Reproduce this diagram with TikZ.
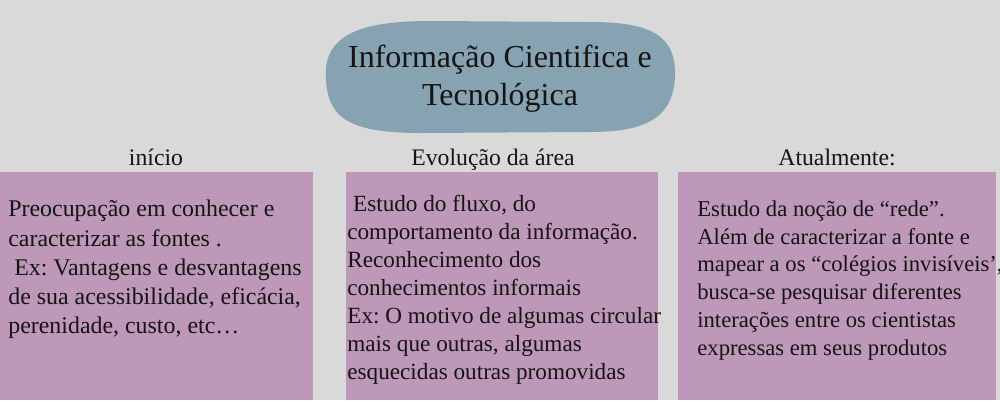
\documentclass[tikz,border=0pt]{standalone}
\usepackage{fontspec}
\setmainfont{Liberation Serif}
\frenchspacing
\definecolor{fundo}{HTML}{D9D9D9}
\definecolor{azul}{HTML}{87A3B2}
\definecolor{lilas}{HTML}{BE98B8}
\definecolor{texto}{HTML}{141414}
\tikzset{
  caixa/.style={fill=lilas},
  cabeca/.style={anchor=base,inner sep=0pt,text=texto,font=\fontsize{13.5}{16}\selectfont},
  corpo/.style={anchor=north west,inner sep=0pt,align=left,text=texto,font=\fontsize{13.2}{15.9}\selectfont},
}
\begin{document}
\begin{tikzpicture}[x=0.02cm,y=-0.02cm]
            % Fundo
            \fill[fundo] (0,0) rectangle (1000,400);
            \useasboundingbox (0,0) rectangle (1000,400);
            % Título
            \fill[azul] (326,80) .. controls (322,35) and (360,21) .. (430,21) -- (590,22)
                .. controls (650,22) and (676,35) .. (675,75)
                .. controls (674,115) and (650,132) .. (590,132) -- (420,133)
                .. controls (350,133) and (328,118) .. (326,80) -- cycle;
            \node[anchor=base,inner sep=0pt,align=center,text=texto,
                  font=\fontsize{18.2}{21.5}\selectfont] (titulo) at (500,105)
                {Informação Cientifica e\\Tecnológica};
            % Início
            \fill[caixa] (0,172) rectangle (313,400);
            \node[cabeca] (inicio) at (156,165) {início};
            \node[corpo,font=\fontsize{13.6}{16.6}\selectfont] (texto1) at (8,200)
                {Preocupação em conhecer e\\
                 caracterizar as fontes .\\
                 \ Ex: Vantagens e desvantagens\\
                 de sua acessibilidade, eficácia,\\
                 perenidade, custo, etc…};
            % Evolução da área
            \fill[caixa] (346,172) rectangle (658,400);
            \node[cabeca] (evolucao) at (493,165) {Evolução da área};
            \node[corpo] (texto2) at (347,195)
                {\ Estudo do fluxo, do\\
                 comportamento da informação.\\
                 Reconhecimento dos\\
                 conhecimentos informais\\
                 Ex: O motivo de algumas circular\\
                 mais que outras, algumas\\
                 esquecidas outras promovidas};
            % Atualmente
            \fill[caixa] (678,172) rectangle (996,400);
            \node[cabeca] (atual) at (837,165) {Atualmente:};
            \node[corpo,font=\fontsize{12.9}{15.9}\selectfont] (texto3) at (697,200)
                {Estudo da noção de “rede”.\\
                 Além de caracterizar a fonte e\\
                 mapear a os “colégios invisíveis’,\\
                 busca-se pesquisar diferentes\\
                 interações entre os cientistas\\
                 expressas em seus produtos};
\end{tikzpicture}
\end{document}
